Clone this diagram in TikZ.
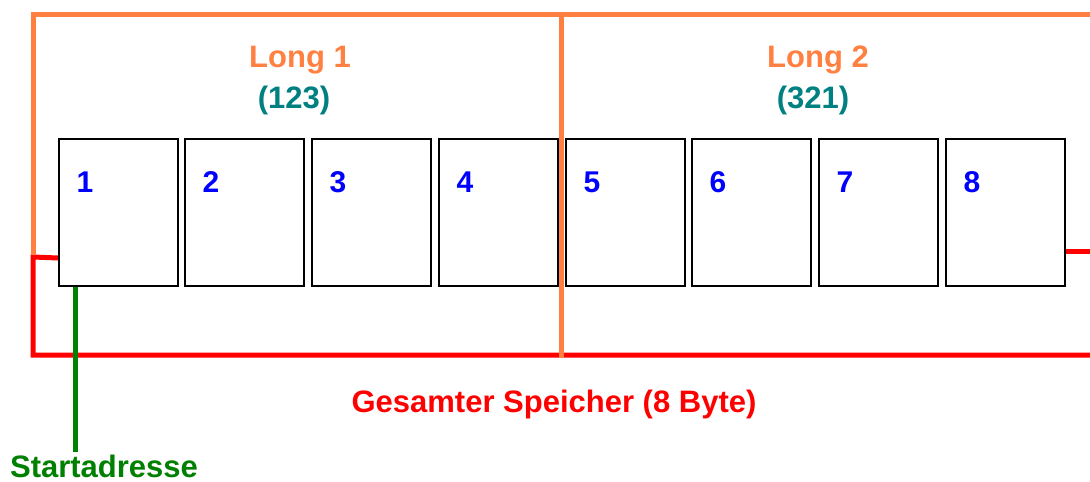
\documentclass[tikz,border=0pt]{standalone}
\usepackage{fontspec}
\setmainfont{Liberation Sans}
\definecolor{frameorange}{RGB}{255,128,64}
\definecolor{longteal}{RGB}{0,128,128}
\definecolor{memred}{RGB}{255,0,0}
\definecolor{startgreen}{RGB}{0,128,0}
\definecolor{bytblue}{RGB}{0,0,255}
\begin{document}
\begin{tikzpicture}[x=1pt,y=-1pt,
  bytebox/.style={draw=black,line width=2pt,minimum width=119pt,minimum height=147pt,
    anchor=north west,inner sep=0pt},
  bytelabel/.style={anchor=base,inner sep=0pt,text=bytblue,font=\bfseries\fontsize{30}{30}\selectfont},
  title/.style={anchor=base,inner sep=0pt,font=\bfseries\fontsize{31}{31}\selectfont},
  longline/.style={draw=frameorange,line width=5pt},
  memline/.style={draw=memred,line width=5pt},
  startline/.style={draw=startgreen,line width=5pt}]
\useasboundingbox (0,0) rectangle (1090,482);
% the eight bytes
\foreach \i/\x in {1/58,2/184,3/311,4/438,5/565,6/691,7/818,8/945}{
  \node[bytebox] (b\i) at (\x,138) {};
  \node[bytelabel] (n\i) at ([xshift=27pt,yshift=-54pt]b\i.north west) {\i};
}
% frame of the whole memory
\coordinate (rTL) at (33,257);
\coordinate (rBL) at (33,355);
\coordinate (rBR) at (1090,355);
\coordinate (rR) at (1090,251);
\draw[memline,line join=miter] ([yshift=-1pt]b1.west |- rTL) -- (rTL) -- (rBL) -- (rBR);
\draw[memline] (b8.east |- rR) -- (rR);
% frames of the two longs
\coordinate (oTL) at (33,14);
\coordinate (oBL) at (33,255);
\coordinate (oTR) at (1090,14);
\coordinate (oMT) at (561,14);
\coordinate (oMB) at (561,358);
\draw[longline] (oBL) -- (oTL) -- (oTR);
\draw[longline] (oMT) -- (oMB);
% start address marker
\coordinate (sEnd) at (75,452);
\draw[startline] (b1.south -| sEnd) -- (sEnd);
% texts
\node[title,text=frameorange] (l1) at (300,67) {Long 1};
\node[title,text=longteal] (v1) at (294,108) {(123)};
\node[title,text=frameorange] (l2) at (818,67) {Long 2};
\node[title,text=longteal] (v2) at (813,108) {(321)};
\node[title,text=memred] (mem) at (554,412) {Gesamter Speicher (8 Byte)};
\node[title,text=startgreen] (start) at (104,477) {Startadresse};
\end{tikzpicture}
\end{document}
